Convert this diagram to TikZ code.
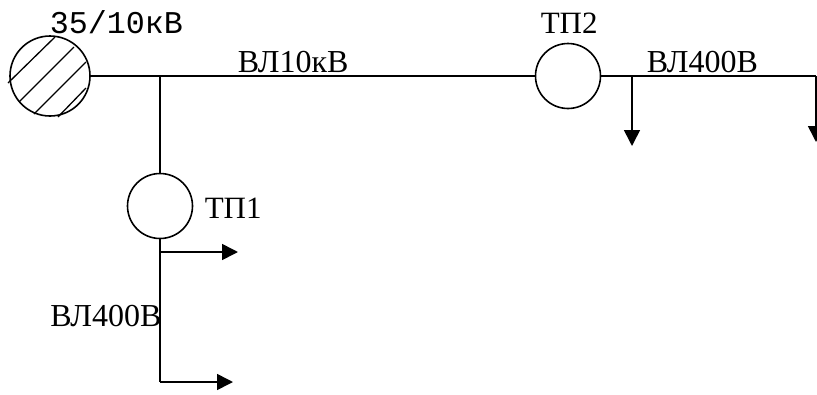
\documentclass[tikz,border=0pt]{standalone}
\usepackage{fontspec}
\setmainfont{Liberation Serif}
\setmonofont{Liberation Mono}
\usetikzlibrary{arrows.meta}

\begin{document}
\begin{tikzpicture}[x=1pt, y=-1pt, line width=1.6pt,
    every node/.style={font=\fontsize{32}{38}\selectfont, inner sep=0pt, anchor=base west},
    tplabel/.style={font=\fontsize{31}{36}\selectfont},
    station/.style={draw, circle, minimum size=65pt, anchor=center},
    source/.style={draw, circle, minimum size=80pt, anchor=center},
    hatchline/.style={line width=1.3pt},
    feeder/.style={-{Triangle[length=16pt, width=16pt]}}]
    \useasboundingbox (0,0) rectangle (817,394);

    % Stations
    \node[source] (src) at (50,76) {};
    \node[station] (tp1) at (160,206) {};
    \node[station] (tp2) at (568,76) {};

    % Hatching of the source
    \draw[hatchline] (8,83) -- (55,37);
    \draw[hatchline] (19,102) -- (74,47);
    \draw[hatchline] (34,114) -- (86,62);
    \draw[hatchline] (58,117) -- (86,88);

    % Labels
    \node[font=\fontsize{31.7}{36}\selectfont\ttfamily] (lblsrc) at (49,33) {35/10кВ};
    \node (lbl10) at (237,72) {ВЛ10кВ};
    \node[tplabel] (lbltp2) at (540,33) {ТП2};
    \node (lbl400a) at (646,72) {ВЛ400В};
    \node[tplabel] (lbltp1) at (204,218) {ТП1};
    \node (lbl400b) at (49.5,326) {ВЛ400В};

    % Junctions and free ends
    \coordinate (junc) at (160,76);
    \coordinate (tap2) at (632,76);
    \coordinate (end2) at (816,76);
    \coordinate (tap2end) at (632,146);
    \coordinate (end2end) at (816,142);
    \coordinate (tap1) at (160,252);
    \coordinate (end1) at (160,382);
    \coordinate (tap1end) at (238,252);
    \coordinate (end1end) at (233,382);

    % Edges
    \draw (src) -- (tp2);
    \draw (junc) -- (tp1);
    \draw (tp2) -- (end2);
    \draw (tp1) -- (end1);
    \draw[feeder] (tap2) -- (tap2end);
    \draw[feeder] (end2) -- (end2end);
    \draw[feeder] (tap1) -- (tap1end);
    \draw[feeder] (end1) -- (end1end);
\end{tikzpicture}
\end{document}
